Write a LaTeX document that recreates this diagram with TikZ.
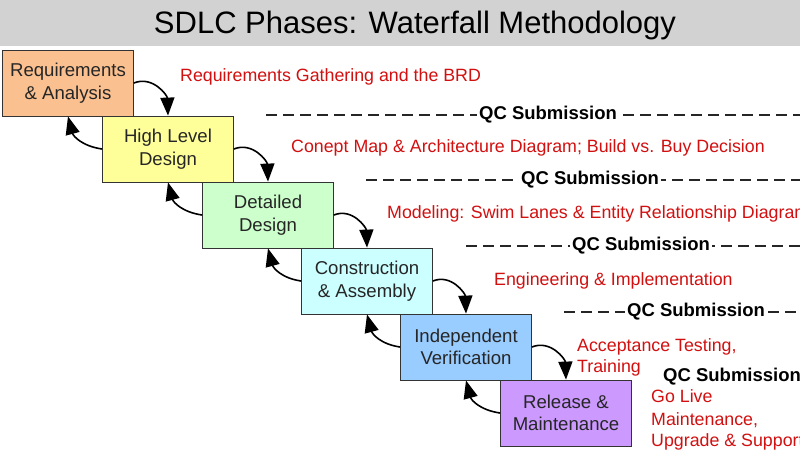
\documentclass[tikz,border=0pt]{standalone}
\usepackage{fontspec}
\setmainfont{Liberation Sans}
\usetikzlibrary{arrows.meta}
\definecolor{cReq}{RGB}{250,192,144}
\definecolor{cHLD}{RGB}{255,255,153}
\definecolor{cDD}{RGB}{204,255,204}
\definecolor{cCA}{RGB}{204,255,255}
\definecolor{cIV}{RGB}{153,204,255}
\definecolor{cRM}{RGB}{204,153,255}
\definecolor{titlegray}{RGB}{210,210,210}
\definecolor{notered}{RGB}{210,16,16}
\begin{document}
\begin{tikzpicture}[x=1pt,y=-1pt,
  phase/.style={draw=black!80, line width=0.8pt, minimum width=131pt, minimum height=66pt,
    inner sep=0pt, align=center, font=\fontsize{18.6}{22.5}\selectfont, text=black!85},
  flow/.style={line width=1.6pt, -{Triangle[length=18pt,width=14pt]}},
  qcline/.style={dash pattern=on 11pt off 6pt, line width=1.2pt, black!85},
  qc/.style={fill=white, inner sep=2pt, font=\fontsize{18.5}{20}\selectfont\bfseries},
  note/.style={text=notered, anchor=base west, inner sep=0pt, font=\fontsize{17.8}{21}\selectfont}]
\clip (0,0) rectangle (800,450);
\fill[white] (0,0) rectangle (800,450);
\fill[titlegray] (0,0) rectangle (800,46);
\node[anchor=base, font=\fontsize{31}{34}\selectfont] (title) at (415,33) {SDLC Phases: Waterfall Methodology};

% phases
\node[phase, fill=cReq] (b1) at (68,83) {Requirements\\\& Analysis};
\node[phase, fill=cHLD] (b2) at (168,149) {High Level\\Design};
\node[phase, fill=cDD]  (b3) at (268,215) {Detailed\\Design};
\node[phase, fill=cCA]  (b4) at (367,281) {Construction\\\& Assembly};
\node[phase, fill=cIV]  (b5) at (466,347) {Independent\\Verification};
\node[phase, fill=cRM]  (b6) at (566,413) {Release \&\\Maintenance};

% forward and backward arrows
\foreach \a/\b in {b1/b2,b2/b3,b3/b4,b4/b5,b5/b6}{
  \draw[flow] (\a.east) to[out=22,in=92,looseness=1.1] (\b.north);
  \draw[flow] (\b.west) to[out=172,in=-75,looseness=1.1] (\a.south);
}

% QC submission lines
\coordinate (q1s) at (266,115); \coordinate (q1e) at (800,115);
\coordinate (q2s) at (366,180); \coordinate (q2e) at (800,180);
\coordinate (q3s) at (466,246); \coordinate (q3e) at (800,246);
\coordinate (q4s) at (564,312); \coordinate (q4e) at (800,312);
\draw[qcline] (q1s) -- (q1e);
\draw[qcline] (q2s) -- (q2e);
\draw[qcline] (q3s) -- (q3e);
\draw[qcline] (q4s) -- (q4e);
\node[qc] (qc1) at (548,115) {QC Submission};
\node[qc] (qc2) at (590,180) {QC Submission};
\node[qc] (qc3) at (641,246) {QC Submission};
\node[qc] (qc4) at (696,312) {QC Submission};
\node[qc, anchor=west] (qc5) at (661,377) {QC Submission};

% notes
\node[note] (n1) at (180,81) {Requirements Gathering and the BRD};
\node[note] (n2) at (291,152) {Conept Map \& Architecture Diagram; Build vs. Buy Decision};
\node[note] (n3) at (387,218) {Modeling: Swim Lanes \& Entity Relationship Diagram};
\node[note] (n4) at (494,285) {Engineering \& Implementation};
\node[note] (n5a) at (577,351) {Acceptance Testing,};
\node[note] (n5b) at (577,372) {Training};
\node[note] (n6a) at (651,402) {Go Live};
\node[note] (n6b) at (651,425) {Maintenance,};
\node[note] (n6c) at (651,446) {Upgrade \& Support};
\end{tikzpicture}
\end{document}
